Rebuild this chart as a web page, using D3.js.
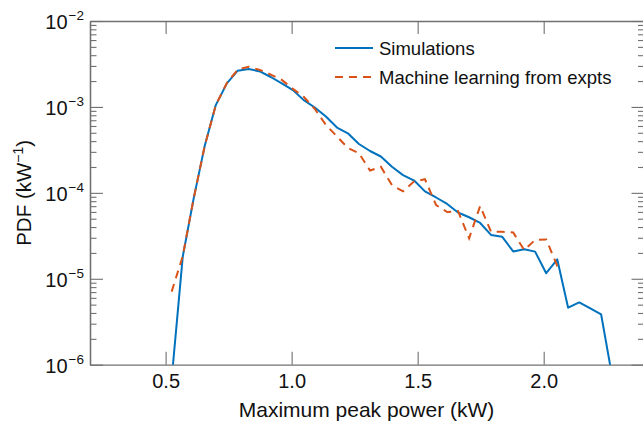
<!DOCTYPE html>
<html lang="en">
<head>
    <meta charset="UTF-8">
    <title>Maximum peak power PDF</title>
    <script src="https://d3js.org/d3.v7.min.js"></script>
    <style>
        body { margin: 0; background: #fff; }
        svg { display: block; font-family: "Liberation Sans", Arial, sans-serif; }
    </style>
</head>
<body>
    <div id="chart"></div>
    <script>
        // Simulations (solid blue)
        const simX = [0.524, 0.568, 0.611, 0.655, 0.699, 0.743, 0.786, 0.830, 0.874, 0.917,
                      0.961, 1.005, 1.048, 1.092, 1.136, 1.180, 1.223, 1.267, 1.311, 1.354,
                      1.398, 1.442, 1.486, 1.529, 1.573, 1.617, 1.660, 1.704, 1.748, 1.791,
                      1.835, 1.879, 1.923, 1.966, 2.010, 2.054, 2.097, 2.141, 2.185, 2.228, 2.272];
        const simPdf = [6.8e-7, 1.81e-5, 8.5e-5, 3.5e-4, 1.05e-3, 1.88e-3, 2.64e-3, 2.76e-3, 2.59e-3, 2.23e-3,
                        1.88e-3, 1.57e-3, 1.2e-3, 9.85e-4, 7.74e-4, 5.76e-4, 4.93e-4, 3.7e-4, 3.07e-4, 2.65e-4,
                        2.01e-4, 1.61e-4, 1.39e-4, 1.04e-4, 8.83e-5, 7.42e-5, 5.9e-5, 5.2e-5, 4.46e-5, 3.24e-5,
                        3.09e-5, 2.08e-5, 2.2e-5, 2.07e-5, 1.16e-5, 1.68e-5, 4.61e-6, 5.3e-6, 4.51e-6, 3.84e-6, 7.2e-7];

        // Machine learning from experiments (dashed orange)
        const mlX = [0.524, 0.568, 0.611, 0.655, 0.699, 0.743, 0.786, 0.830, 0.874, 0.917,
                     0.961, 1.005, 1.048, 1.092, 1.136, 1.180, 1.223, 1.267, 1.311, 1.354,
                     1.398, 1.442, 1.486, 1.529, 1.573, 1.617, 1.660, 1.704, 1.748, 1.791,
                     1.835, 1.879, 1.923, 1.966, 2.010, 2.054, 2.078];
        const mlPdf = [7.08e-6, 1.84e-5, 8.5e-5, 3.5e-4, 1.05e-3, 1.9e-3, 2.72e-3, 2.94e-3, 2.69e-3, 2.38e-3,
                       2.06e-3, 1.62e-3, 1.31e-3, 9.46e-4, 6.16e-4, 4.53e-4, 3.33e-4, 2.89e-4, 1.82e-4, 2.01e-4,
                       1.23e-4, 1.04e-4, 1.36e-4, 1.44e-4, 7.22e-5, 5.98e-5, 6.15e-5, 2.96e-5, 7.03e-5, 3.53e-5,
                       3.53e-5, 3.46e-5, 2.16e-5, 2.83e-5, 2.87e-5, 1.41e-5, 1.41e-5];

        const xTicks = [0.5, 1.0, 1.5, 2.0];
        const yExponents = [-2, -3, -4, -5, -6];
        const seriesNames = ["Simulations", "Machine learning from expts"];

        const width = 643;
        const height = 422;
        const margin = {top: 21, right: -1.5, bottom: 57.3, left: 90};
        const axisColor = "#707070";
        const blue = "#0072BD";
        const orange = "#D95319";

        const x = d3.scaleLinear()
            .domain([0.2, 2.4])
            .range([margin.left, width - margin.right]);

        const y = d3.scaleLog()
            .domain([1e-6, 1e-2])
            .range([height - margin.bottom, margin.top]);

        const svg = d3.select("#chart").append("svg")
            .attr("width", width)
            .attr("height", height)
            .attr("viewBox", [0, 0, width, height]);

        svg.append("defs").append("clipPath")
            .attr("id", "plot-clip")
            .append("rect")
            .attr("x", x.range()[0])
            .attr("y", y.range()[1])
            .attr("width", x.range()[1] - x.range()[0])
            .attr("height", y.range()[0] - y.range()[1]);

        // minor log ticks, 2..9 in each decade
        const minor = [];
        yExponents.slice(1).forEach(e => {
            for (let m = 2; m <= 9; m++) minor.push(m * Math.pow(10, e));
        });
        const majors = yExponents.map(e => Math.pow(10, e));

        const styleAxis = g => {
            g.selectAll(".domain").attr("stroke", axisColor).attr("stroke-width", 1.3);
            g.selectAll(".tick line").attr("stroke", axisColor).attr("stroke-width", 1.1);
        };

        svg.append("g")
            .attr("transform", `translate(0,${y.range()[0]})`)
            .call(d3.axisBottom(x).tickValues(xTicks).tickSize(-13).tickSizeOuter(0)
                .tickPadding(9.5).tickFormat(d3.format(".1f")))
            .call(styleAxis)
            .call(g => g.selectAll(".tick text")
                .attr("fill", "#111")
                .style("font-size", "20px")
                .style("font-family", "'Liberation Sans', Arial, sans-serif"));

        svg.append("g")
            .attr("transform", `translate(0,${y.range()[1]})`)
            .call(d3.axisTop(x).tickValues(xTicks).tickSize(-13).tickSizeOuter(0).tickFormat(""))
            .call(styleAxis);

        svg.append("g")
            .attr("transform", `translate(${x.range()[0]},0)`)
            .call(d3.axisLeft(y).tickValues(majors).tickSize(-13).tickSizeOuter(0).tickFormat(""))
            .call(styleAxis);

        svg.append("g")
            .attr("transform", `translate(${x.range()[0]},0)`)
            .call(d3.axisLeft(y).tickValues(minor).tickSize(-6.5).tickSizeOuter(0).tickFormat(""))
            .call(styleAxis);

        svg.append("g")
            .attr("transform", `translate(${x.range()[1]},0)`)
            .call(d3.axisRight(y).tickValues(majors).tickSize(-13).tickSizeOuter(0).tickFormat(""))
            .call(styleAxis);

        svg.append("g")
            .attr("transform", `translate(${x.range()[1]},0)`)
            .call(d3.axisRight(y).tickValues(minor).tickSize(-6.5).tickSizeOuter(0).tickFormat(""))
            .call(styleAxis);

        // y tick labels as 10 with superscript exponent
        const yLabels = svg.append("g")
            .attr("fill", "#111")
            .style("font-size", "20px");
        yExponents.forEach(e => {
            const t = yLabels.append("text")
                .attr("x", x.range()[0] - 6)
                .attr("y", y(Math.pow(10, e)) + 8)
                .attr("text-anchor", "end");
            t.append("tspan").text("10");
            t.append("tspan")
                .attr("dx", 1)
                .attr("dy", -9)
                .style("font-size", "13.5px")
                .text("\u2212" + Math.abs(e));
        });

        // axis titles
        svg.append("text")
            .attr("x", (x.range()[0] + width) / 2)
            .attr("y", 416.5)
            .attr("text-anchor", "middle")
            .attr("fill", "#111")
            .style("font-size", "21px")
            .text("Maximum peak power (kW)");

        const yTitle = svg.append("text")
            .attr("transform", `translate(31,${(y.range()[0] + y.range()[1]) / 2}) rotate(-90)`)
            .attr("text-anchor", "middle")
            .attr("fill", "#111")
            .style("font-size", "20.5px");
        yTitle.append("tspan").text("PDF (kW");
        yTitle.append("tspan").attr("dy", -8.5).style("font-size", "14px").text("\u22121");
        yTitle.append("tspan").attr("dy", 8.5).text(")");

        const line = d3.line()
            .x(d => x(d[0]))
            .y(d => y(d[1]));

        const plot = svg.append("g").attr("clip-path", "url(#plot-clip)");

        plot.append("path")
            .datum(d3.zip(simX, simPdf))
            .attr("fill", "none")
            .attr("stroke", blue)
            .attr("stroke-width", 2)
            .attr("stroke-linejoin", "round")
            .attr("d", line);

        plot.append("path")
            .datum(d3.zip(mlX, mlPdf))
            .attr("fill", "none")
            .attr("stroke", orange)
            .attr("stroke-width", 2)
            .attr("stroke-dasharray", "8,6")
            .attr("d", line);

        // legend
        const legend = svg.append("g")
            .style("font-size", "18.5px")
            .attr("fill", "#111");
        [[blue, null], [orange, "8,6"]].forEach((s, i) => {
            const ly = 48 + i * 29;
            legend.append("line")
                .attr("x1", 335).attr("x2", 373)
                .attr("y1", ly).attr("y2", ly)
                .attr("stroke", s[0])
                .attr("stroke-width", 2)
                .attr("stroke-dasharray", s[1]);
            legend.append("text")
                .attr("x", 379)
                .attr("y", ly + 6.5)
                .text(seriesNames[i]);
        });
    </script>
</body>
</html>
